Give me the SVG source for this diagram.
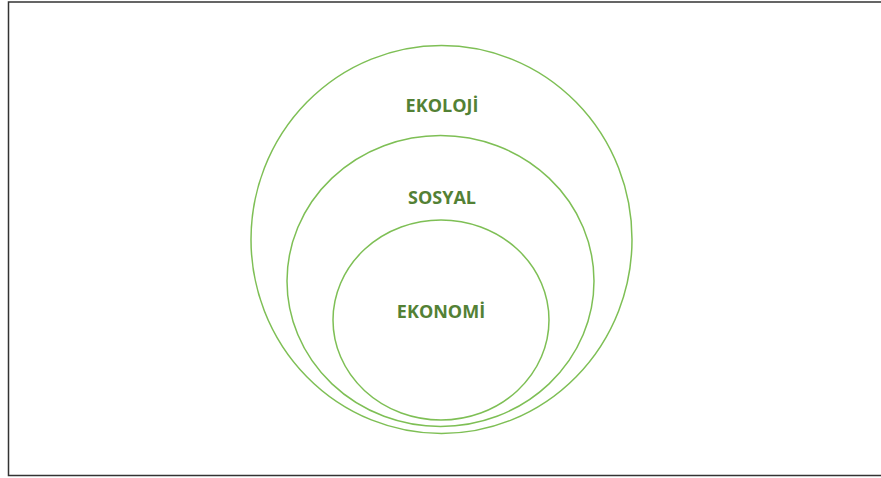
<svg xmlns="http://www.w3.org/2000/svg" width="881" height="478" viewBox="0 0 881 478">
<style>
.ring{fill:none;stroke:#7ebf55;stroke-width:1.5}
.lbl{font-family:"Open Sans","Liberation Sans",sans-serif;font-weight:bold;font-size:18px;fill:#538135;text-anchor:middle}
</style>
<rect x="0" y="0" width="881" height="478" fill="#ffffff"/>
<rect x="8.5" y="2" width="880" height="473.5" fill="none" stroke="#333333" stroke-width="1.5"/>
<g id="ekoloji">
<ellipse class="ring" cx="441.5" cy="239.5" rx="190.5" ry="194"/>
<text class="lbl" x="442" y="112">EKOLOJİ</text>
</g>
<g id="sosyal">
<ellipse class="ring" cx="440.5" cy="281" rx="153.5" ry="145.5"/>
<text class="lbl" x="442" y="204">SOSYAL</text>
</g>
<g id="ekonomi">
<ellipse class="ring" cx="441" cy="320" rx="108" ry="100"/>
<text class="lbl" x="441" y="318">EKONOMİ</text>
</g>
<g id="connectors"></g>
</svg>
